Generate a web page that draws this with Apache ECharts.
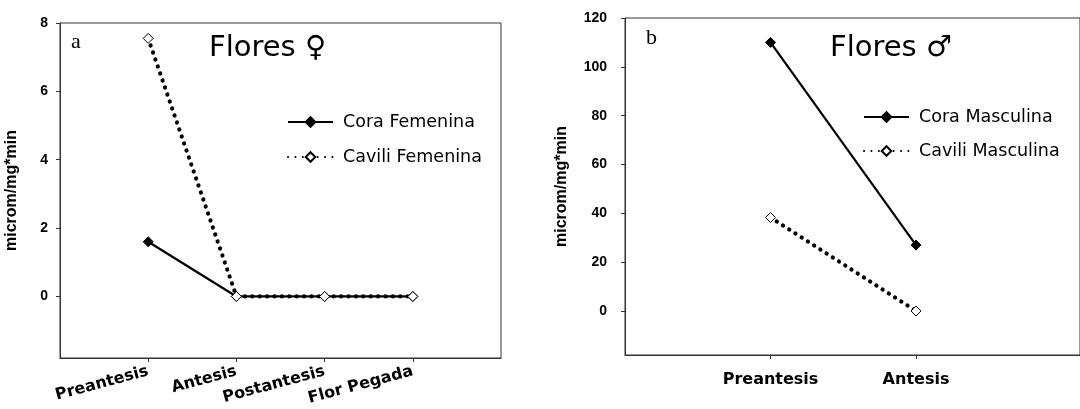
<!DOCTYPE html>
<html>
<head>
<meta charset="utf-8">
<script src="https://cdn.jsdelivr.net/npm/echarts@6/dist/echarts.min.js"></script>
<style>html,body{margin:0;padding:0;background:#fff}#c{width:1080px;height:409px}</style>
</head>
<body>
<div id="c"></div>
<script>
// ---- data ----
const categoriesA = ['Preantesis', 'Antesis', 'Postantesis', 'Flor Pegada'];
const coraFemenina = [1.6, 0, 0, 0];
const caviliFemenina = [7.55, 0, 0, 0];
const yTicksA = [0, 2, 4, 6, 8];

const categoriesB = ['Preantesis', 'Antesis'];
const coraMasculina = [110, 27];
const caviliMasculina = [38.3, 0];
const yTicksB = [0, 20, 40, 60, 80, 100, 120];

const axisName = 'microm/mg*min';
const titleA = 'Flores \u2640';
const titleB = 'Flores \u2642';

// ---- helpers ----
const toPairs = arr => arr.map((v, i) => [i + 1, v]);
const catPositions = cats => cats.map((c, i) => i + 1);
const AX = '#333';
const solidSeries = (name, data, xi) => ({
  name, type: 'line', xAxisIndex: xi, yAxisIndex: xi, data: toPairs(data),
  symbol: 'diamond', symbolSize: 10, z: 2,
  lineStyle: {color: '#000', width: 2.2},
  itemStyle: {color: '#000', borderColor: '#000', borderWidth: 1},
  emphasis: {disabled: true}, animation: false
});
const dotSeries = (name, data, xi) => ({
  name, type: 'line', xAxisIndex: xi, yAxisIndex: xi, data: toPairs(data),
  symbol: 'diamond', symbolSize: 10, z: 3,
  lineStyle: {color: '#000', width: 4.2, type: [0.1, 7.3], cap: 'round'},
  itemStyle: {color: '#fff', borderColor: '#000', borderWidth: 1},
  emphasis: {disabled: true}, animation: false
});
const yAxis = (gi, min, max, ticks, margin, nameGap) => ({
  type: 'value', gridIndex: gi, min, max,
  name: axisName, nameLocation: 'middle', nameRotate: 90, nameGap,
  nameTextStyle: {fontFamily: 'Liberation Sans', fontSize: 16, fontWeight: 'bold', color: '#000'},
  splitLine: {show: false},
  axisLine: {show: true, onZero: false, lineStyle: {color: AX, width: 1}},
  axisTick: {show: true, length: 4, customValues: ticks, lineStyle: {color: AX}},
  axisLabel: {customValues: ticks, margin, fontFamily: 'Liberation Sans', fontWeight: 'bold', fontSize: 14, color: '#000'}
});

const chart = echarts.init(document.getElementById('c'), null, {renderer: 'canvas'});
chart.setOption({
  animation: false,
  backgroundColor: '#fff',
  grid: [
    {left: 60, top: 23, width: 441, height: 335, show: true, borderColor: AX, borderWidth: 1, backgroundColor: 'transparent'},
    {left: 625, top: 18, width: 470, height: 337, show: true, borderColor: AX, borderWidth: 1, backgroundColor: 'transparent'}
  ],
  title: [
    {text: titleA, left: 204, top: 29, textStyle: {fontFamily: 'DejaVu Sans', fontWeight: 'normal', fontSize: 29, color: '#000'}},
    {text: titleB, left: 825, top: 29, textStyle: {fontFamily: 'DejaVu Sans', fontWeight: 'normal', fontSize: 29, color: '#000'}},
    {text: 'a', left: 66, top: 26, textStyle: {fontFamily: 'Liberation Serif', fontWeight: 'normal', fontSize: 22, color: '#000'}},
    {text: 'b', left: 641, top: 22, textStyle: {fontFamily: 'Liberation Serif', fontWeight: 'normal', fontSize: 22, color: '#000'}}
  ],
  legend: [
    {data: ['Cora Femenina', 'Cavili Femenina'], orient: 'vertical', left: 287, top: 113,
     itemWidth: 45, itemHeight: 12, itemGap: 17, padding: 0,
     textStyle: {fontFamily: 'DejaVu Sans', fontSize: 17.5, color: '#000', padding: [0, 0, 0, 5]}},
    {data: ['Cora Masculina', 'Cavili Masculina'], orient: 'vertical', left: 863, top: 108,
     itemWidth: 45, itemHeight: 12, itemGap: 16, padding: 0,
     textStyle: {fontFamily: 'DejaVu Sans', fontSize: 17.5, color: '#000', padding: [0, 0, 0, 5]}}
  ],
  xAxis: [
    {type: 'value', gridIndex: 0, min: 0, max: 5,
     splitLine: {show: false},
     axisLine: {show: true, onZero: false, lineStyle: {color: AX}},
     axisTick: {show: true, length: 4, customValues: catPositions(categoriesA), lineStyle: {color: AX}},
     axisLabel: {customValues: catPositions(categoriesA), rotate: 15, margin: 13,
       formatter: v => categoriesA[Math.round(v) - 1] || '',
       fontFamily: 'DejaVu Sans', fontWeight: 'bold', fontSize: 16, color: '#000'}},
    {type: 'value', gridIndex: 1, min: 0, max: 470 / 150.3,
     splitLine: {show: false},
     axisLine: {show: true, onZero: false, lineStyle: {color: AX}},
     axisTick: {show: true, length: 4, customValues: catPositions(categoriesB), lineStyle: {color: AX}},
     axisLabel: {customValues: catPositions(categoriesB), margin: 17,
       formatter: v => categoriesB[Math.round(v) - 1] || '',
       fontFamily: 'DejaVu Sans', fontWeight: 'bold', fontSize: 16, color: '#000'}}
  ],
  yAxis: [
    yAxis(0, -1.8, 8, yTicksA, 12, 40),
    yAxis(1, -18, 120, yTicksB, 18, 55)
  ],
  series: [
    solidSeries('Cora Femenina', coraFemenina, 0),
    dotSeries('Cavili Femenina', caviliFemenina, 0),
    solidSeries('Cora Masculina', coraMasculina, 1),
    dotSeries('Cavili Masculina', caviliMasculina, 1)
  ]
});
</script>
</body>
</html>
